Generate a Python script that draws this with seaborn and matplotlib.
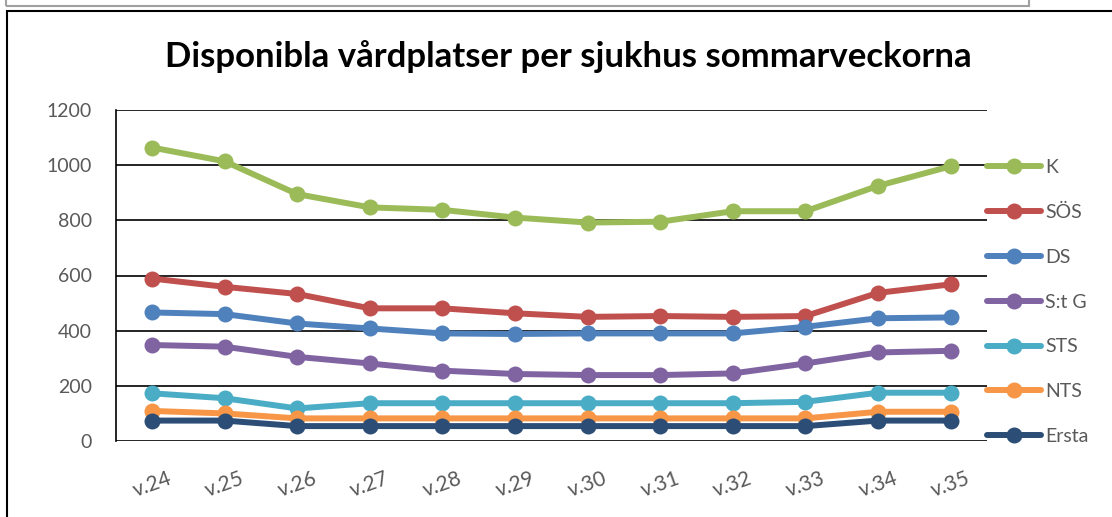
import pandas as pd
import matplotlib
matplotlib.use("Agg")
import matplotlib.pyplot as plt
from matplotlib.patches import Rectangle
import seaborn as sns

weeks = ["v.24", "v.25", "v.26", "v.27", "v.28", "v.29",
         "v.30", "v.31", "v.32", "v.33", "v.34", "v.35"]

K = [1064, 1014, 895, 847, 838, 810, 792, 795, 833, 833, 925, 996]
SOS = [589, 559, 533, 481, 481, 463, 450, 453, 450, 453, 537, 568]
DS = [466, 460, 426, 408, 390, 388, 390, 390, 390, 414, 445, 448]
StG = [348, 342, 305, 281, 255, 243, 239, 239, 245, 281, 321, 327]
STS = [173, 155, 118, 137, 137, 137, 137, 137, 137, 142, 175, 175]
NTS = [109, 100, 82, 82, 82, 82, 82, 82, 82, 82, 106, 106]
Ersta = [74, 74, 54, 54, 54, 54, 54, 54, 54, 54, 74, 74]

names = ["K", "SÖS", "DS", "S:t G", "STS", "NTS", "Ersta"]
series = [K, SOS, DS, StG, STS, NTS, Ersta]
colors = ["#9BBB59", "#C0504D", "#4F81BD", "#8064A2", "#4BACC6", "#F79646", "#2C4D75"]

rows = []
for name, vals in zip(names, series):
    for i, v in enumerate(vals):
        rows.append({"sjukhus": name, "pos": i, "vecka": weeks[i], "platser": v})
df = pd.DataFrame(rows)

sns.set_style("white")
plt.rcParams["font.family"] = ["Lato", "DejaVu Sans"]

fig = plt.figure(figsize=(11.12, 5.17), dpi=100)
ax = fig.add_axes([115.7 / 1112, 1 - 441 / 517, (987 - 115.7) / 1112, (441 - 110) / 517])

sns.lineplot(data=df, x="pos", y="platser", hue="sjukhus", hue_order=names,
             palette=colors, marker="o", markersize=11.5, markeredgewidth=0,
             linewidth=4.3, ax=ax, legend=False, zorder=3)

ax.set_xlim(-0.5, 11.5)
ax.set_ylim(0, 1200)
ax.set_yticks(range(0, 1201, 200))
ax.set_xticks(range(len(weeks)))
ax.set_xticklabels(weeks, rotation=20, ha="center")
ax.set_xlabel("")
ax.set_ylabel("")
ax.yaxis.grid(True, color="black", linewidth=1.2)
ax.set_axisbelow(True)
for s in ["top", "right", "bottom"]:
    ax.spines[s].set_visible(False)
ax.spines["left"].set_color("black")
ax.spines["left"].set_linewidth(1.2)
ax.tick_params(axis="both", length=0, labelsize=14, colors="#595959")
ax.tick_params(axis="x", labelsize=15)
ax.tick_params(axis="y", pad=17)
ax.tick_params(axis="x", pad=20)

ax.set_title("Disponibla vårdplatser per sjukhus sommarveckorna",
             fontsize=25, fontweight="bold", color="black", pad=0, y=1.13)
ax.title.set_x(0.52)

handles = [plt.Line2D([], [], color=c, linewidth=4.3, marker="o", markersize=11.5,
                      markeredgewidth=0) for c in colors]
leg = fig.legend(handles, names, loc="upper left", bbox_to_anchor=(987 / 1112, 1 - 159 / 517),
                 frameon=False, fontsize=14, handlelength=2.8, handletextpad=0.2,
                 labelspacing=1.43, borderaxespad=0, borderpad=0)
for t in leg.get_texts():
    t.set_color("#595959")

# chart frame and the box above it
fig.patches.append(Rectangle((7 / 1112, -0.1), 1.2, 1 - 11 / 517 + 0.1,
                             transform=fig.transFigure, fill=False,
                             edgecolor="black", linewidth=1.5, zorder=0))
fig.patches.append(Rectangle((6 / 1112, 1 - 6 / 517), (1029 - 6) / 1112, 0.1,
                             transform=fig.transFigure, fill=False,
                             edgecolor="#A0A0A0", linewidth=1.5, zorder=0))

fig.savefig("out.png", dpi=100)
